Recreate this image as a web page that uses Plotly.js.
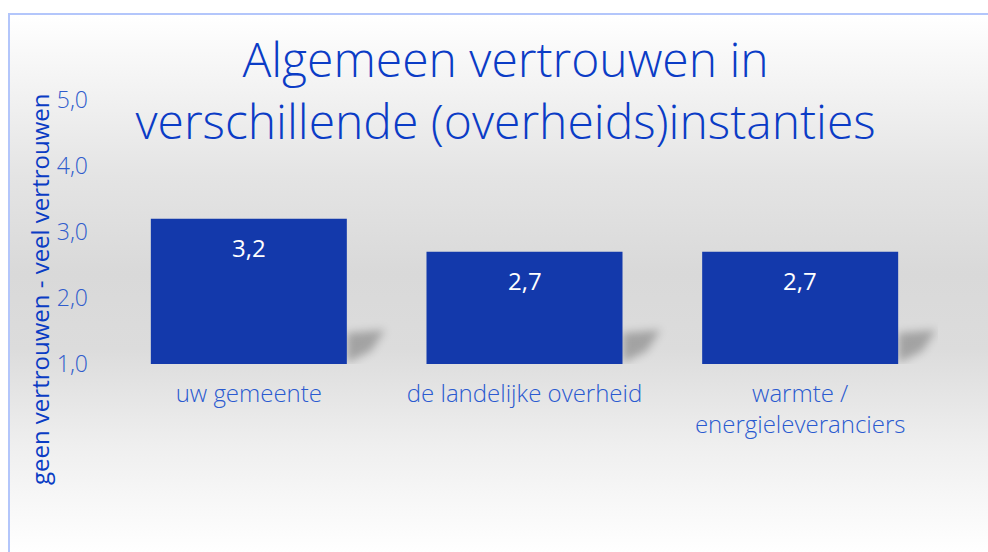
<!DOCTYPE html>
<html>
<head>
<meta charset="utf-8">
<script src="https://cdn.plot.ly/plotly-3.0.1.min.js"></script>
<style>
  html, body { margin: 0; padding: 0; background: #ffffff; width: 988px; height: 552px; overflow: hidden; }
  #bg { position: absolute; left: 8px; top: 13px; width: 980px; height: 539px;
        border-left: 2px solid #b3c6fb; border-top: 2px solid #b3c6fb;
        background: linear-gradient(to bottom, #ffffff 0%, #f4f4f4 12%, #e4e4e4 30%, #d9d9d9 48%, #dcdcdc 62%, #efefef 80%, #ffffff 100%); }
  #chart { position: absolute; left: 0; top: 0; width: 988px; height: 552px; }
  .shapelayer path { filter: blur(4px); }
</style>
</head>
<body>
<div id="bg"></div>
<div id="chart"></div>
<script>
const categories = ["uw gemeente", "de landelijke overheid", "warmte /<br>energieleveranciers"];
const values = [3.2, 2.7, 2.7];
const yTickVals = [1, 2, 3, 4, 5];
const yTickText = ["1,0", "2,0", "3,0", "4,0", "5,0"];
const titleText = "Algemeen vertrouwen in<br>verschillende (overheids)instanties";
const yAxisTitle = "geen vertrouwen - veel vertrouwen";
const baseValue = 1;

const fmt = v => v.toFixed(1).replace('.', ',');

const trace = {
  type: 'bar',
  x: categories,
  y: values.map(v => v - baseValue),
  base: baseValue,
  marker: { color: '#1339ab', line: { width: 0 } },
  hoverinfo: 'none',
  showlegend: false
};

const annotations = values.map((v, i) => ({
  x: categories[i], y: v, xref: 'x', yref: 'y',
  text: fmt(v), showarrow: false, yanchor: 'middle', yshift: -29,
  font: { family: '"Open Sans", Roboto, sans-serif', size: 24, color: '#ffffff' }
}));
annotations.push({
  xref: 'paper', yref: 'paper', x: -0.087, y: 0.284, xanchor: 'center', yanchor: 'middle',
  text: yAxisTitle, textangle: -90, showarrow: false,
  font: { family: '"Open Sans", Roboto, sans-serif', size: 24, color: '#0a3cc4' }
});

const shapes = values.map((v, i) => ({
  type: 'path', layer: 'below', xref: 'x', yref: 'y',
  xsizemode: 'pixel', ysizemode: 'pixel', xanchor: i, yanchor: baseValue,
  path: 'M 98,1 L 98,31 L 136,34 L 122,13 Z',
  fillcolor: 'rgba(0,0,0,0.26)', line: { width: 0 }
}));

const layout = {
  width: 988, height: 552,
  paper_bgcolor: 'rgba(0,0,0,0)', plot_bgcolor: 'rgba(0,0,0,0)',
  margin: { l: 111, r: 50, t: 100, b: 188, autoexpand: false },
  separators: ',.',
  bargap: 0.289,
  title: {
    text: titleText, x: 0.5117, xanchor: 'center', xref: 'container',
    y: 0.861, yanchor: 'top', yref: 'container',
    font: { family: '"Open Sans", sans-serif', size: 48, weight: 300, color: '#0b3cc6' }
  },
  xaxis: {
    type: 'category', range: [-0.5, categories.length - 0.5],
    showgrid: false, zeroline: false, showline: false, ticks: '',
    automargin: false, ticklabelstandoff: 13,
    tickfont: { family: '"Open Sans", sans-serif', size: 24, weight: 300, color: '#2a5ad0' }
  },
  yaxis: {
    range: [1, 5], tickvals: yTickVals, ticktext: yTickText,
    showgrid: false, zeroline: false, showline: false, ticks: '',
    automargin: false, ticklabelstandoff: 22,
    tickfont: { family: '"Open Sans", sans-serif', size: 23, weight: 300, color: '#2f5ccc' }
  },
  annotations: annotations,
  shapes: shapes
};

Plotly.newPlot('chart', [trace], layout, { staticPlot: true, displayModeBar: false });
</script>
</body>
</html>
